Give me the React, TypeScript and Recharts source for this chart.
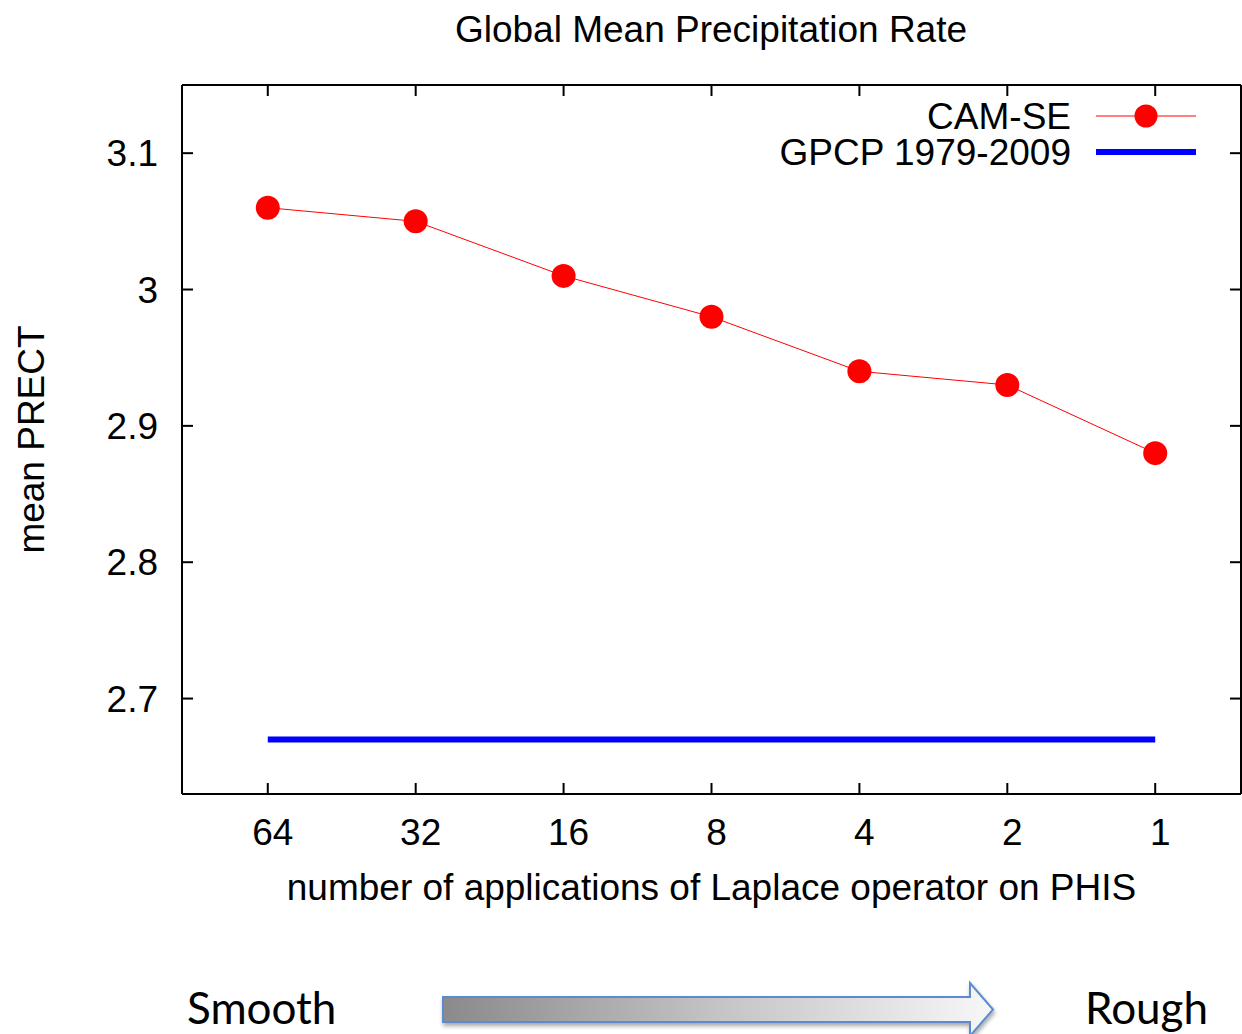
import React from 'react';
import { ComposedChart, Line, XAxis, YAxis, Legend, Label } from 'recharts';

const categories = ['64', '32', '16', '8', '4', '2', '1'];
const camSeValues = [3.06, 3.05, 3.01, 2.98, 2.94, 2.93, 2.88];
const gpcpValues = [2.67, 2.67, 2.67, 2.67, 2.67, 2.67, 2.67];
const yTicks = [2.7, 2.8, 2.9, 3.0, 3.1];
const yTickLabels = ['2.7', '2.8', '2.9', '3', '3.1'];
const xTicks = categories.map((_, i) => i);

const data = categories.map((c, i) => ({ x: i, label: c, camSe: camSeValues[i], gpcp: gpcpValues[i] }));

const FONT = '"Liberation Sans", Arial, Helvetica, sans-serif';
const FS = 37;
const TICK = 11;

const BottomTick = (p: any) => {
  const { x, y, payload } = p;
  return (
    <g>
      <line x1={x} y1={y} x2={x} y2={y - TICK} stroke="#000" strokeWidth={2} />
      <text x={x + 5} y={y + 51} textAnchor="middle" fontFamily={FONT} fontSize={FS} fill="#000">
        {categories[payload.value]}
      </text>
    </g>
  );
};
const TopTick = (p: any) => {
  const { x, y } = p;
  return <line x1={x} y1={y} x2={x} y2={y + TICK} stroke="#000" strokeWidth={2} />;
};
const LeftTick = (p: any) => {
  const { x, y, payload, index } = p;
  const idx = yTicks.indexOf(payload.value);
  return (
    <g>
      <line x1={x} y1={y} x2={x + TICK} y2={y} stroke="#000" strokeWidth={2} />
      <text x={x - 24} y={y + 13} textAnchor="end" fontFamily={FONT} fontSize={FS} fill="#000">
        {yTickLabels[idx >= 0 ? idx : index]}
      </text>
    </g>
  );
};
const RightTick = (p: any) => {
  const { x, y } = p;
  return <line x1={x} y1={y} x2={x - TICK} y2={y} stroke="#000" strokeWidth={2} />;
};

const XLabel = (p: any) => {
  const vb = p.viewBox || {};
  return (
    <text x={vb.x + vb.width / 2} y={vb.y + 106} textAnchor="middle" fontFamily={FONT} fontSize={FS} fill="#000">
      number of applications of Laplace operator on PHIS
    </text>
  );
};
const YLabel = (p: any) => {
  const vb = p.viewBox || {};
  const cx = 44;
  const cy = vb.y + vb.height / 2;
  return (
    <text x={cx} y={cy} transform={`rotate(-90, ${cx}, ${cy})`} textAnchor="middle" fontFamily={FONT} fontSize={FS} fill="#000">
      mean PRECT
    </text>
  );
};

const renderLegend = (props: any) => {
  const payload = props.payload || [];
  const ordered = ['camSe', 'gpcp']
    .map((k) => payload.find((e: any) => e.dataKey === k))
    .filter(Boolean);
  return (
    <svg width={520} height={80} style={{ display: 'block', overflow: 'visible' }}>
      {ordered.map((e: any, i: number) => {
        const cy = 24 + i * 36;
        return (
          <g key={e.dataKey}>
            <text x={371} y={cy + 13} textAnchor="end" fontFamily={FONT} fontSize={FS} fill="#000">
              {e.value}
            </text>
            {e.dataKey === 'camSe' ? (
              <g>
                <line x1={396} x2={496} y1={cy} y2={cy} stroke={e.color} strokeWidth={1} />
                <circle cx={446} cy={cy} r={11.5} fill={e.color} />
              </g>
            ) : (
              <line x1={396} x2={496} y1={cy} y2={cy} stroke={e.color} strokeWidth={6} />
            )}
          </g>
        );
      })}
    </svg>
  );
};

export default function App() {
  return (
    <div style={{ position: 'absolute', left: 0, top: 0, width: 1242, height: 1034, background: '#fff' }}>
      <ComposedChart
        width={1242}
        height={1034}
        data={data}
        margin={{ top: 84, right: 0, bottom: 180, left: 122 }}
      >
        <XAxis
          xAxisId="bottom"
          dataKey="x"
          type="number"
          domain={[-0.58, 6.58]}
          ticks={xTicks}
          allowDataOverflow
          height={60}
          tickSize={0}
          tickMargin={0}
          tickLine={false}
          axisLine={{ stroke: '#000', strokeWidth: 2 }}
          tick={<BottomTick />}
          interval={0}
        >
          <Label content={<XLabel />} />
        </XAxis>
        <XAxis
          xAxisId="top"
          orientation="top"
          dataKey="x"
          type="number"
          domain={[-0.58, 6.58]}
          ticks={xTicks}
          allowDataOverflow
          height={1}
          tickSize={0}
          tickMargin={0}
          tickLine={false}
          axisLine={{ stroke: '#000', strokeWidth: 2 }}
          tick={<TopTick />}
          interval={0}
        />
        <YAxis
          yAxisId="left"
          type="number"
          domain={[2.63, 3.15]}
          ticks={yTicks}
          allowDataOverflow
          width={60}
          tickSize={0}
          tickMargin={0}
          tickLine={false}
          axisLine={{ stroke: '#000', strokeWidth: 2 }}
          tick={<LeftTick />}
          interval={0}
        >
          <Label content={<YLabel />} />
        </YAxis>
        <YAxis
          yAxisId="right"
          orientation="right"
          type="number"
          domain={[2.63, 3.15]}
          ticks={yTicks}
          allowDataOverflow
          width={1}
          tickSize={0}
          tickMargin={0}
          tickLine={false}
          axisLine={{ stroke: '#000', strokeWidth: 2 }}
          tick={<RightTick />}
          interval={0}
        />
        <Legend
          layout="vertical"
          align="center"
          verticalAlign="middle"
          content={renderLegend}
          wrapperStyle={{ left: 700, top: 92, width: 520, height: 80 }}
        />
        <Line
          xAxisId="bottom"
          yAxisId="left"
          dataKey="gpcp"
          name="GPCP 1979-2009"
          stroke="#0000ff"
          strokeWidth={6}
          dot={false}
          activeDot={false}
          isAnimationActive={false}
          type="linear"
        />
        <Line
          xAxisId="bottom"
          yAxisId="left"
          dataKey="camSe"
          name="CAM-SE"
          stroke="#ff0000"
          strokeWidth={1}
          dot={{ r: 12, fill: '#ff0000', stroke: 'none', strokeWidth: 0 }}
          activeDot={false}
          isAnimationActive={false}
          type="linear"
        />
      </ComposedChart>
      <svg
        width={1242}
        height={1034}
        style={{ position: 'absolute', left: 0, top: 0, pointerEvents: 'none' }}
      >
        <defs>
          <linearGradient id="arrowGrad" x1="0" y1="0" x2="1" y2="0">
            <stop offset="0" stopColor="#8a8a8a" />
            <stop offset="0.5" stopColor="#c4c4c4" />
            <stop offset="1" stopColor="#f7f7f7" />
          </linearGradient>
          <filter id="shadow" x="-5%" y="-50%" width="110%" height="200%">
            <feDropShadow dx="1" dy="3" stdDeviation="2" floodColor="#000" floodOpacity="0.35" />
          </filter>
        </defs>
        <text x={711} y={42} textAnchor="middle" fontFamily={FONT} fontSize={FS} fill="#000">
          Global Mean Precipitation Rate
        </text>
        <path
          d="M443,997 L970,997 L970,983 L993,1009.5 L970,1036 L970,1022 L443,1022 Z"
          fill="url(#arrowGrad)"
          stroke="#5b8bd0"
          strokeWidth={2}
          filter="url(#shadow)"
        />
        <text x={187} y={1024} fontFamily="Lato, 'Open Sans', sans-serif" fontSize={44} fill="#000">
          Smooth
        </text>
        <text x={1085} y={1024} fontFamily="Lato, 'Open Sans', sans-serif" fontSize={44} fill="#000">
          Rough
        </text>
      </svg>
    </div>
  );
}
